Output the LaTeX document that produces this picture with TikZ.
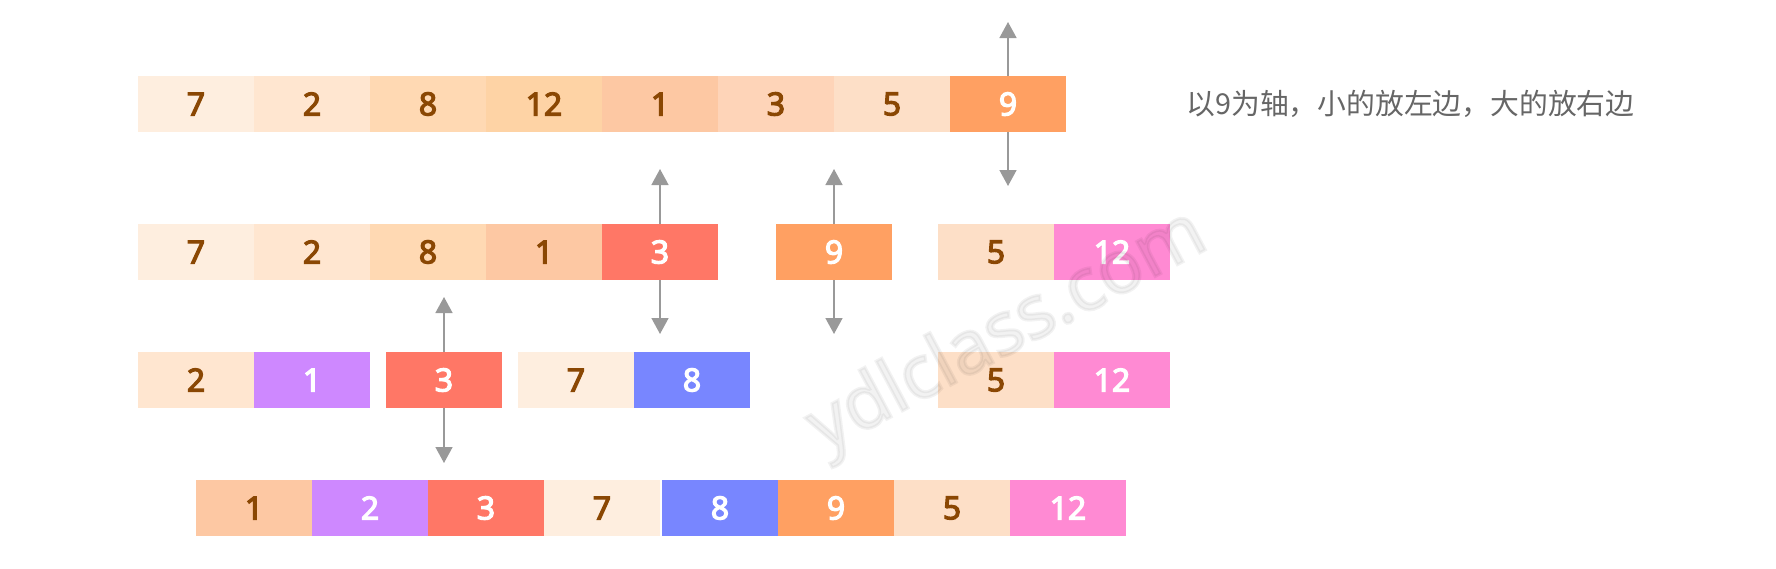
\documentclass[tikz,border=0pt]{standalone}
\usepackage{fontspec}
\usetikzlibrary{arrows.meta}
\newfontfamily\digitfont{Noto Sans}[FakeBold=3.6]
\newfontfamily\wmfont{Noto Sans}[FakeBold=4]
\newfontfamily\cjkfont{Noto Sans CJK SC}
\definecolor{cA}{HTML}{FEEEDF}
\definecolor{cB}{HTML}{FFE6D0}
\definecolor{cC}{HTML}{FFD9B3}
\definecolor{cD}{HTML}{FED3A5}
\definecolor{cE}{HTML}{FDC8A3}
\definecolor{cF}{HTML}{FED4B8}
\definecolor{cG}{HTML}{FDDFC7}
\definecolor{cOrange}{HTML}{FFA062}
\definecolor{cRed}{HTML}{FF7766}
\definecolor{cPink}{HTML}{FF8AD3}
\definecolor{cPurple}{HTML}{CE88FF}
\definecolor{cBlue}{HTML}{7886FF}
\definecolor{brownT}{HTML}{8A4703}
\definecolor{arrowG}{HTML}{999999}
\definecolor{noteG}{HTML}{666666}
\tikzset{
  cell/.style={minimum width=116pt, minimum height=56pt, inner sep=0pt, outer sep=0pt,
    draw=none, font=\digitfont\fontsize{32}{32}\selectfont},
  lt/.style={cell, text=brownT},
  dk/.style={cell, text=white},
  marker/.style={draw=arrowG, line width=1.5pt, -{Triangle[width=17pt,length=16pt]}, arrowG}
}
\begin{document}
\begin{tikzpicture}[x=1pt,y=-1pt]
\useasboundingbox (0,0) rectangle (1776,568);
% row 1
\node[lt, fill=cA] (a1) at (196,104) {7};
\node[lt, fill=cB] (a2) at (312,104) {2};
\node[lt, fill=cC] (a3) at (428,104) {8};
\node[lt, fill=cD] (a4) at (544,104) {12};
\node[lt, fill=cE] (a5) at (660,104) {1};
\node[lt, fill=cF] (a6) at (776,104) {3};
\node[lt, fill=cG] (a7) at (892,104) {5};
\node[dk, fill=cOrange] (a8) at (1008,104) {9};
\node[anchor=west, text=noteG, font=\cjkfont\fontsize{28.8}{28.8}\selectfont] (note) at (1183,104) {以9为轴，小的放左边，大的放右边};
% row 2
\node[lt, fill=cA] (b1) at (196,252) {7};
\node[lt, fill=cB] (b2) at (312,252) {2};
\node[lt, fill=cC] (b3) at (428,252) {8};
\node[lt, fill=cE] (b4) at (544,252) {1};
\node[dk, fill=cRed] (b5) at (660,252) {3};
\node[dk, fill=cOrange] (b6) at (834,252) {9};
\node[lt, fill=cG] (b7) at (996,252) {5};
\node[dk, fill=cPink] (b8) at (1112,252) {12};
% row 3
\node[lt, fill=cB] (c1) at (196,380) {2};
\node[dk, fill=cPurple] (c2) at (312,380) {1};
\node[dk, fill=cRed] (c3) at (444,380) {3};
\node[lt, fill=cA] (c4) at (576,380) {7};
\node[dk, fill=cBlue] (c5) at (692,380) {8};
\node[lt, fill=cG] (c6) at (996,380) {5};
\node[dk, fill=cPink] (c7) at (1112,380) {12};
% row 4
\node[lt, fill=cE] (d1) at (254,508) {1};
\node[dk, fill=cPurple] (d2) at (370,508) {2};
\node[dk, fill=cRed] (d3) at (486,508) {3};
\node[lt, fill=cA] (d4) at (602,508) {7};
\node[dk, fill=cBlue] (d5) at (720,508) {8};
\node[dk, fill=cOrange] (d6) at (836,508) {9};
\node[lt, fill=cG] (d7) at (952,508) {5};
\node[dk, fill=cPink] (d8) at (1068,508) {12};
% arrow ends
\coordinate (u1) at (1008,22);
\coordinate (l1) at (1008,186);
\coordinate (u2) at (660,169);
\coordinate (l2) at (660,334);
\coordinate (u3) at (834,169);
\coordinate (l3) at (834,334);
\coordinate (u4) at (444,297);
\coordinate (l4) at (444,463);
\draw[marker] (a8.north) -- (u1);
\draw[marker] (a8.south) -- (l1);
\draw[marker] (b5.north) -- (u2);
\draw[marker] (b5.south) -- (l2);
\draw[marker] (b6.north) -- (u3);
\draw[marker] (b6.south) -- (l3);
\draw[marker] (c3.north) -- (u4);
\draw[marker] (c3.south) -- (l4);
% watermark
\node[rotate=28, text=black, text opacity=0.05, font=\wmfont\fontsize{74}{74}\selectfont] (wm) at (1008,333) {ydlclass.com};
\end{tikzpicture}
\end{document}
